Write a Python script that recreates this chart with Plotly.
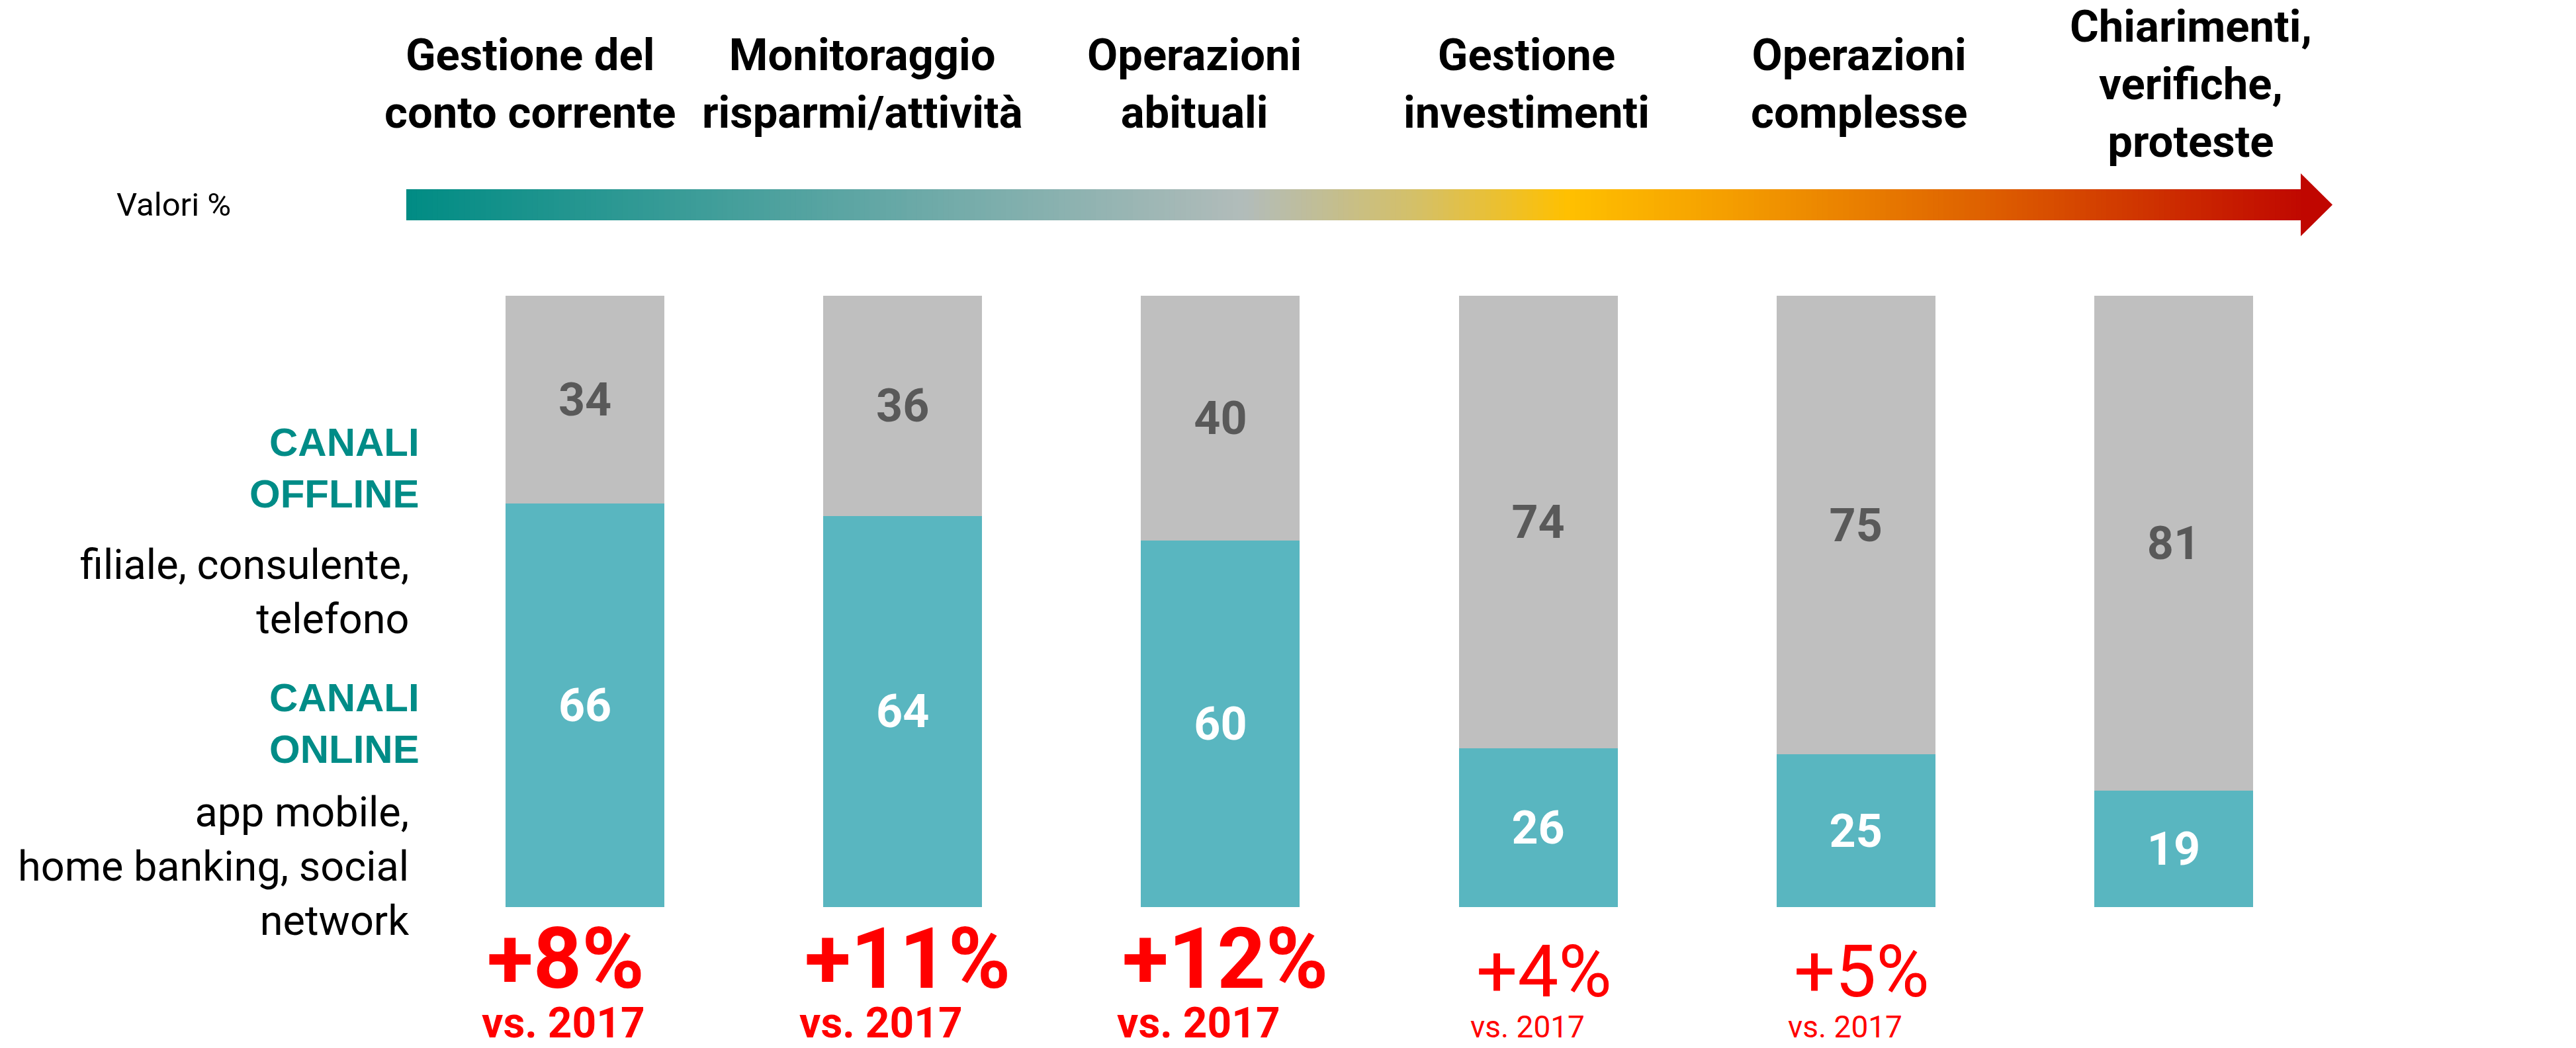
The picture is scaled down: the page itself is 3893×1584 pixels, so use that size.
import plotly.graph_objects as go

# ---------------- data ----------------
categories = ["Gestione del<br>conto corrente", "Monitoraggio<br>risparmi/attività",
              "Operazioni<br>abituali", "Gestione<br>investimenti",
              "Operazioni<br>complesse", "Chiarimenti,<br>verifiche,<br>proteste"]
online = [66, 64, 60, 26, 25, 19]
offline = [34, 36, 40, 74, 75, 81]
change_vs_2017 = [8, 11, 12, 4, 5, None]
highlighted = [True, True, True, False, False, False]

# ---------------- layout constants (pixels) ----------------
W, H = 3893, 1584
L, R, T, B = 644, 368, 447, 213
PW, PH = W - L - R, H - T - B
n = len(categories)
slot = PW / n


def px(p):
    return (p - L) / PW


def py(p):
    return (H - B - p) / PH


TEAL_TXT = "#008C87"
TEAL_BAR = "#59B6C0"
GRAY_BAR = "#BFBFBF"
RED = "#FF0000"

xs = list(range(n))
fig = go.Figure()
fig.add_trace(go.Bar(x=xs, y=online, marker=dict(color=TEAL_BAR, line=dict(width=0)),
                     text=[str(v) for v in online], textposition="inside",
                     insidetextanchor="middle",
                     textfont=dict(family="Roboto", size=70, color="white", weight="bold"),
                     hoverinfo="skip"))
fig.add_trace(go.Bar(x=xs, y=offline, marker=dict(color=GRAY_BAR, line=dict(width=0)),
                     text=[str(v) for v in offline], textposition="inside",
                     insidetextanchor="middle",
                     textfont=dict(family="Roboto", size=70, color="#595959", weight="bold"),
                     hoverinfo="skip"))

annotations = []
# category titles above the arrow
for i, c in enumerate(categories):
    cx_title = 801 + i * 502
    cx_bar = L + (i + 0.5) * slot
    annotations.append(dict(x=i, xref="x", y=py(126.5), yref="paper",
                            text="<b>" + c + "</b>", showarrow=False,
                            xshift=cx_title - cx_bar, xanchor="center", yanchor="middle",
                            align="center",
                            font=dict(family="Roboto", size=67, color="black")))

# Valori %
annotations.append(dict(x=px(262), xref="paper", y=py(310), yref="paper", text="Valori %",
                        showarrow=False, xanchor="center", yanchor="middle",
                        font=dict(family="Roboto", size=49, color="black")))

# left labels
annotations += [
    dict(x=px(636), xref="paper", y=py(707), yref="paper", text="<b>CANALI<br>OFFLINE</b>",
         showarrow=False, xanchor="right", yanchor="middle", align="right",
         font=dict(family="Liberation Sans, Arial", size=60, color=TEAL_TXT)),
    dict(x=px(620), xref="paper", y=py(894), yref="paper", text="filiale, consulente,<br>telefono",
         showarrow=False, xanchor="right", yanchor="middle", align="right",
         font=dict(family="Roboto", size=63, color="black")),
    dict(x=px(636), xref="paper", y=py(1093), yref="paper", text="<b>CANALI<br>ONLINE</b>",
         showarrow=False, xanchor="right", yanchor="middle", align="right",
         font=dict(family="Liberation Sans, Arial", size=60, color=TEAL_TXT)),
    dict(x=px(620), xref="paper", y=py(1309), yref="paper",
         text="app mobile,<br>home banking, social<br>network",
         showarrow=False, xanchor="right", yanchor="middle", align="right",
         font=dict(family="Roboto", size=63, color="black")),
]

# growth vs 2017
half_bar = slot * 0.25
for i, (chg, hi) in enumerate(zip(change_vs_2017, highlighted)):
    if chg is None:
        continue
    if hi:
        annotations.append(dict(x=i, xref="x", y=py(1449), yref="paper",
                                text="<b>+%d%%</b>" % chg, showarrow=False,
                                xanchor="left", yanchor="middle", xshift=-half_bar - 30,
                                font=dict(family="Roboto", size=128, color=RED)))
        annotations.append(dict(x=i, xref="x", y=py(1546), yref="paper",
                                text="<b>vs. 2017</b>", showarrow=False,
                                xanchor="left", yanchor="middle", xshift=-half_bar - 38,
                                font=dict(family="Roboto", size=64, color=RED)))
    else:
        annotations.append(dict(x=i, xref="x", y=py(1468), yref="paper",
                                text="+%d%%" % chg, showarrow=False,
                                xanchor="left", yanchor="middle", xshift=-half_bar + 24,
                                font=dict(family="Roboto", size=110, color=RED)))
        annotations.append(dict(x=i, xref="x", y=py(1552), yref="paper",
                                text="vs. 2017", showarrow=False,
                                xanchor="left", yanchor="middle", xshift=-half_bar + 15,
                                font=dict(family="Roboto", size=46, color=RED)))

# gradient arrow
stops = [(614, (0, 140, 132)), (1300, (95, 166, 164)), (1880, (178, 188, 186)),
         (2150, (214, 192, 100)), (2370, (255, 192, 0)), (2600, (245, 160, 0)),
         (3000, (222, 96, 0)), (3478, (192, 8, 0))]


def color_at(p):
    for (a, ca), (b, cb) in zip(stops[:-1], stops[1:]):
        if a <= p <= b:
            t = (p - a) / (b - a)
            return "rgb(%d,%d,%d)" % tuple(round(ca[k] + (cb[k] - ca[k]) * t) for k in range(3))
    return "rgb(%d,%d,%d)" % stops[-1][1]


shapes = []
x0, x1 = 614, 3478
nseg = 360
step = (x1 - x0) / nseg
for k in range(nseg):
    a = x0 + k * step
    b = a + step + 1.0
    shapes.append(dict(type="rect", xref="paper", yref="paper",
                       x0=px(a), x1=px(min(b, x1 + 1)), y0=py(333), y1=py(286),
                       fillcolor=color_at(a + step / 2), line=dict(width=0), layer="above"))
shapes.append(dict(type="path", xref="paper", yref="paper",
                   path="M %f %f L %f %f L %f %f Z" % (px(3477), py(262), px(3525), py(309.5),
                                                       px(3477), py(357)),
                   fillcolor="rgb(192,6,0)", line=dict(width=0), layer="above"))

fig.update_layout(
    width=W, height=H,
    margin=dict(l=L, r=R, t=T, b=B, pad=0),
    barmode="stack", bargap=0.5,
    showlegend=False,
    plot_bgcolor="white", paper_bgcolor="white",
    xaxis=dict(range=[-0.5, n - 0.5], showticklabels=False, showgrid=False, zeroline=False,
               showline=False, fixedrange=True),
    yaxis=dict(range=[0, 100], showticklabels=False, showgrid=False, zeroline=False,
               showline=False, fixedrange=True),
    annotations=annotations,
    shapes=shapes,
)

fig.write_html("out.html", config={"displayModeBar": False},
               post_script="document.body.style.margin='0px';document.body.style.overflow='hidden';")
